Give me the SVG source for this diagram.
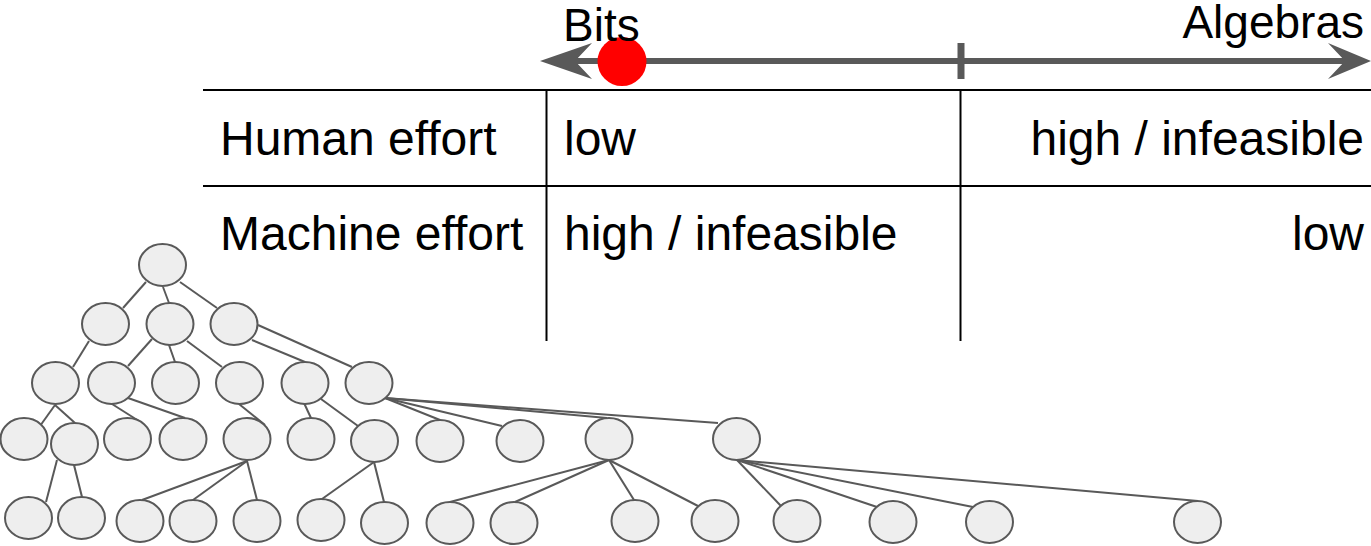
<svg xmlns="http://www.w3.org/2000/svg" width="1371" height="546" viewBox="0 0 1371 546">
  <style>
    .lbl { font-family: "Liberation Sans", Arial, sans-serif; font-size: 48px; fill: #000; }
    .hdr { font-size: 46px; }
    .grid { stroke: #000; stroke-width: 2; fill: none; }
    .edge { stroke: #595959; stroke-width: 2; fill: none; }
    .node ellipse { fill: #eeeeee; stroke: #595959; stroke-width: 2; }
    .axis { stroke: #595959; stroke-width: 6; fill: none; }
  </style>

  <!-- spectrum axis -->
  <g id="axis">
    <line class="axis" x1="570" y1="61" x2="1350" y2="61"/>
    <polygon points="540,61 592,43 575,61 592,79" fill="#595959"/>
    <polygon points="1371,61 1328,43 1345,61 1328,79" fill="#595959"/>
    <line x1="961" y1="43" x2="961" y2="79" stroke="#595959" stroke-width="7"/>
    <circle cx="622" cy="61.5" r="24.5" fill="#ff0000"/>
    <text class="lbl hdr" x="563" y="41">Bits</text>
    <text class="lbl hdr" x="1364" y="38" text-anchor="end">Algebras</text>
  </g>

  <!-- comparison table -->
  <g id="table">
    <line class="grid" x1="203" y1="90" x2="1371" y2="90"/>
    <line class="grid" x1="203" y1="186" x2="1371" y2="186"/>
    <line class="grid" x1="546.5" y1="90" x2="546.5" y2="341"/>
    <line class="grid" x1="960.5" y1="90" x2="960.5" y2="341"/>
    <text class="lbl" x="220" y="155">Human effort</text>
    <text class="lbl" x="564" y="155">low</text>
    <text class="lbl" x="1364" y="155" text-anchor="end">high / infeasible</text>
    <text class="lbl" x="220" y="250">Machine effort</text>
    <text class="lbl" x="564" y="250">high / infeasible</text>
    <text class="lbl" x="1364" y="250" text-anchor="end">low</text>
  </g>

  <!-- tree edges -->
  <g id="connectors" class="edge">
    <line x1="146" y1="282" x2="123" y2="308"/>
    <line x1="163" y1="287" x2="169" y2="303"/>
    <line x1="180" y1="282" x2="217" y2="308"/>
    <line x1="89" y1="341" x2="73" y2="367"/>
    <line x1="152" y1="339" x2="128" y2="366"/>
    <line x1="169" y1="345" x2="175" y2="362"/>
    <line x1="187" y1="341" x2="222" y2="367"/>
    <line x1="252" y1="340" x2="305" y2="362"/>
    <line x1="258" y1="325" x2="352" y2="367"/>
    <line x1="55" y1="405" x2="40" y2="426"/>
    <line x1="55" y1="405" x2="75" y2="423"/>
    <line x1="112" y1="404" x2="142" y2="423"/>
    <line x1="128" y1="398" x2="185" y2="418"/>
    <line x1="239" y1="404" x2="265" y2="425"/>
    <line x1="304" y1="403" x2="311" y2="418"/>
    <line x1="321" y1="399" x2="358" y2="426"/>
    <line x1="385" y1="398" x2="440" y2="420"/>
    <line x1="385" y1="398" x2="502" y2="426"/>
    <line x1="385" y1="398" x2="607" y2="418"/>
    <line x1="385" y1="398" x2="718" y2="423"/>
    <line x1="57" y1="460" x2="46" y2="502"/>
    <line x1="74" y1="465" x2="82" y2="497"/>
    <line x1="247" y1="461" x2="142" y2="500"/>
    <line x1="247" y1="461" x2="193" y2="500"/>
    <line x1="247" y1="461" x2="257" y2="500"/>
    <line x1="374" y1="462" x2="322" y2="499"/>
    <line x1="374" y1="462" x2="384" y2="502"/>
    <line x1="609" y1="460" x2="450" y2="502"/>
    <line x1="609" y1="460" x2="515" y2="502"/>
    <line x1="609" y1="460" x2="634" y2="500"/>
    <line x1="609" y1="460" x2="698" y2="506"/>
    <line x1="737" y1="460" x2="781" y2="506"/>
    <line x1="737" y1="460" x2="877" y2="507"/>
    <line x1="737" y1="460" x2="973" y2="507"/>
    <line x1="737" y1="460" x2="1198" y2="501"/>
  </g>

  <!-- tree nodes -->
  <g id="n0" class="node"><ellipse cx="162.5" cy="265" rx="23.5" ry="21"/></g>
  <g id="n1" class="node"><ellipse cx="105.5" cy="324" rx="23.5" ry="21"/></g>
  <g id="n2" class="node"><ellipse cx="170" cy="324" rx="23.5" ry="21"/></g>
  <g id="n3" class="node"><ellipse cx="234" cy="324" rx="23.5" ry="21"/></g>
  <g id="n4" class="node"><ellipse cx="55.5" cy="383" rx="23.5" ry="21"/></g>
  <g id="n5" class="node"><ellipse cx="111.5" cy="383" rx="23.5" ry="21"/></g>
  <g id="n6" class="node"><ellipse cx="175.5" cy="383" rx="23.5" ry="21"/></g>
  <g id="n7" class="node"><ellipse cx="239.5" cy="383" rx="23.5" ry="21"/></g>
  <g id="n8" class="node"><ellipse cx="305" cy="383" rx="23.5" ry="21"/></g>
  <g id="n9" class="node"><ellipse cx="369" cy="383" rx="23.5" ry="21"/></g>
  <g id="n10" class="node"><ellipse cx="24" cy="439" rx="23.5" ry="21"/></g>
  <g id="n11" class="node"><ellipse cx="74.5" cy="444" rx="23.5" ry="21"/></g>
  <g id="n12" class="node"><ellipse cx="127.5" cy="439" rx="23.5" ry="21"/></g>
  <g id="n13" class="node"><ellipse cx="183" cy="439" rx="23.5" ry="21"/></g>
  <g id="n14" class="node"><ellipse cx="247" cy="439" rx="23.5" ry="21"/></g>
  <g id="n15" class="node"><ellipse cx="311" cy="439" rx="23.5" ry="21"/></g>
  <g id="n16" class="node"><ellipse cx="374.5" cy="441" rx="23.5" ry="21"/></g>
  <g id="n17" class="node"><ellipse cx="440" cy="441" rx="23.5" ry="21"/></g>
  <g id="n18" class="node"><ellipse cx="520" cy="441" rx="23.5" ry="21"/></g>
  <g id="n19" class="node"><ellipse cx="609" cy="439" rx="23.5" ry="21"/></g>
  <g id="n20" class="node"><ellipse cx="736.5" cy="439" rx="23.5" ry="21"/></g>
  <g id="n21" class="node"><ellipse cx="28.5" cy="518" rx="23.5" ry="21"/></g>
  <g id="n22" class="node"><ellipse cx="81.5" cy="518" rx="23.5" ry="21"/></g>
  <g id="n23" class="node"><ellipse cx="140" cy="521" rx="23.5" ry="21"/></g>
  <g id="n24" class="node"><ellipse cx="193" cy="521" rx="23.5" ry="21"/></g>
  <g id="n25" class="node"><ellipse cx="257" cy="521" rx="23.5" ry="21"/></g>
  <g id="n26" class="node"><ellipse cx="321" cy="520" rx="23.5" ry="21"/></g>
  <g id="n27" class="node"><ellipse cx="384.5" cy="523" rx="23.5" ry="21"/></g>
  <g id="n28" class="node"><ellipse cx="450" cy="523" rx="23.5" ry="21"/></g>
  <g id="n29" class="node"><ellipse cx="514" cy="523" rx="23.5" ry="21"/></g>
  <g id="n30" class="node"><ellipse cx="635" cy="521" rx="23.5" ry="21"/></g>
  <g id="n31" class="node"><ellipse cx="715" cy="521" rx="23.5" ry="21"/></g>
  <g id="n32" class="node"><ellipse cx="797" cy="521" rx="23.5" ry="21"/></g>
  <g id="n33" class="node"><ellipse cx="893" cy="522" rx="23.5" ry="21"/></g>
  <g id="n34" class="node"><ellipse cx="989.5" cy="522" rx="23.5" ry="21"/></g>
  <g id="n35" class="node"><ellipse cx="1197.5" cy="522" rx="23.5" ry="21"/></g>
</svg>
